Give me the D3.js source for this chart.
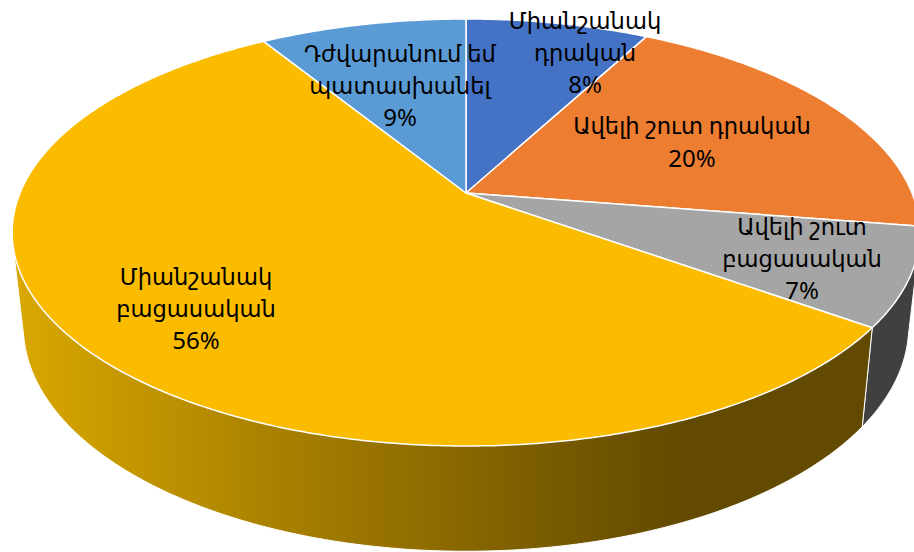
<!DOCTYPE html>
<html>
<head>
<meta charset="utf-8">
<script src="https://cdn.jsdelivr.net/npm/d3@7"></script>
<style>
  html, body { margin: 0; padding: 0; background: #fff; overflow: hidden; }
  svg { display: block; }
  text { font-family: "Noto Sans", "DejaVu Sans", sans-serif; font-size: 22.6px; fill: #000; }
  .pct { font-size: 24px; }
</style>
</head>
<body>
<div class="chart"></div>
<script>
const width = 914;
const height = 552;

// data
const categories = [
  "Միանշանակ\nդրական",
  "Ավելի շուտ դրական",
  "Ավելի շուտ\nբացասական",
  "Միանշանակ\nբացասական",
  "Դժվարանում եմ\nպատասխանել",
];
const values = [7.8, 19.7, 7.4, 56.3, 8.8];
const colors = ["#4472c4", "#ec7d31", "#a5a5a5", "#fbbc00", "#5b9bd5"];
const wallColors = ["#2f5597", "#ae5a21", "#404040", "url(#yellowWall)", "#3a6f9f"];

// label centres, same order as the categories
const labelX = [585, 692, 802, 196, 400];
const labelY = [53, 142.5, 259, 309, 86];
const lineHeight = 32;

// perspective of the top face and of the bottom rim
const topFace = { cx: 466, cy: 193, rx: 446, ry: 206.2, tilt: -0.185 };
const bottomRim = { cx: 466, cy: 285, rx: 435, ry: 217, tilt: -0.185 };

function project(face, angle) {
  const u = Math.sin(angle);
  const v = -Math.cos(angle);
  const k = 1 + face.tilt * v;
  return [face.cx + (face.rx * u) / k, face.cy + (face.ry * v) / k];
}

function arcPoints(face, a0, a1) {
  const n = Math.max(2, Math.ceil((a1 - a0) / 0.01));
  return d3.range(n + 1).map((i) => project(face, a0 + ((a1 - a0) * i) / n));
}

const line = d3.line();
const slices = d3.pie().sort(null)(values);

const svg = d3
  .select(".chart")
  .append("svg")
  .attr("width", width)
  .attr("height", height);

const grad = svg
  .append("defs")
  .append("linearGradient")
  .attr("id", "yellowWall")
  .attr("gradientUnits", "userSpaceOnUse")
  .attr("x1", 15)
  .attr("x2", 680)
  .attr("y1", 0)
  .attr("y2", 0);
grad.append("stop").attr("offset", 0).attr("stop-color", "#d9a800");
grad.append("stop").attr("offset", 0.45).attr("stop-color", "#a27b00");
grad.append("stop").attr("offset", 1).attr("stop-color", "#624a00");

// side walls first, the top face covers whatever is behind
// hull so the outline runs straight from the top rim to the bottom rim
svg
  .append("g")
  .selectAll("path")
  .data(slices)
  .enter()
  .append("path")
  .attr("d", (d) => {
    const upper = arcPoints(topFace, d.startAngle, d.endAngle);
    const lower = arcPoints(bottomRim, d.startAngle, d.endAngle);
    return line(d3.polygonHull(upper.concat(lower))) + "Z";
  })
  .attr("fill", (d) => wallColors[d.index])
  .attr("stroke", "#fff")
  .attr("stroke-width", 1);

svg
  .append("g")
  .selectAll("path")
  .data(slices)
  .enter()
  .append("path")
  .attr("d", (d) => {
    const rim = arcPoints(topFace, d.startAngle, d.endAngle);
    return line([[topFace.cx, topFace.cy]].concat(rim)) + "Z";
  })
  .attr("fill", (d) => colors[d.index])
  .attr("stroke", "#fff")
  .attr("stroke-width", 1.5)
  .attr("stroke-linejoin", "round");

const labels = svg
  .append("g")
  .selectAll("text")
  .data(slices)
  .enter()
  .append("text")
  .attr("text-anchor", "middle");

labels.each(function (d) {
  const rows = categories[d.index].split("\n").concat(Math.round(d.value) + "%");
  const top = labelY[d.index] - ((rows.length - 1) * lineHeight) / 2;
  d3.select(this)
    .selectAll("tspan")
    .data(rows)
    .enter()
    .append("tspan")
    .attr("class", (r, i) => (i === rows.length - 1 ? "pct" : null))
    .attr("x", labelX[d.index])
    .attr("y", (r, i) => top + i * lineHeight)
    .attr("dy", "0.35em")
    .text((r) => r);
});
</script>
</body>
</html>
